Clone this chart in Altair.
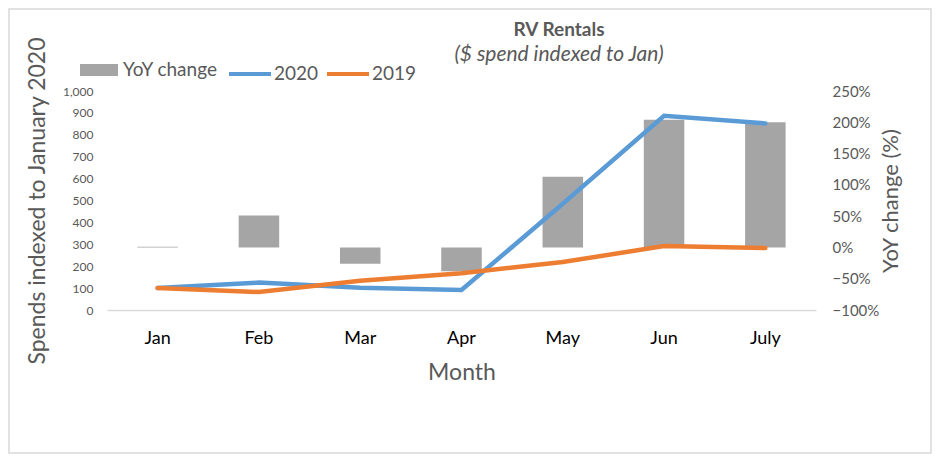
import altair as alt
import pandas as pd

months = ["Jan", "Feb", "Mar", "Apr", "May", "Jun", "July"]
spend_2020 = [100, 125, 102, 91, 485, 887, 852]
spend_2019 = [100, 82, 134, 168, 219, 292, 283]
yoy_change = [0.01, 0.51, -0.26, -0.38, 1.13, 2.04, 2.00]
series_names = ["2020", "2019"]
series_colors = ["#5B9BD5", "#ED7D31"]
bar_color = "#A5A5A5"
left_ticks = [0, 100, 200, 300, 400, 500, 600, 700, 800, 900, 1000]
right_ticks = [-1.0, -0.5, 0.0, 0.5, 1.0, 1.5, 2.0, 2.5]

FONT = "Lato"
GREY = "#595959"

bars_df = pd.DataFrame({"Month": months, "YoY": yoy_change, "label": ["YoY change"] * len(months)})
lines_df = pd.DataFrame({
    "Month": months * 2,
    "Spend": spend_2020 + spend_2019,
    "Year": ["2020"] * len(months) + ["2019"] * len(months),
})

x_enc = alt.X(
    "Month:N",
    sort=months,
    scale=alt.Scale(paddingInner=0.6, paddingOuter=0.3),
    axis=alt.Axis(
        title="Month", labelAngle=0, labelColor="black", labelFontSize=18, labelFont=FONT,
        labelPadding=19, ticks=False, domainColor="#d9d9d9", domainWidth=1.5,
        titleColor=GREY, titleFontSize=23, titleFont=FONT, titleFontWeight="normal", titlePadding=14,
    ),
)

bars = alt.Chart(bars_df).mark_bar(color=bar_color).encode(
    x=x_enc,
    y=alt.Y(
        "YoY:Q",
        scale=alt.Scale(domain=[-1.0, 2.5], nice=False, zero=False),
        axis=alt.Axis(
            orient="right", values=right_ticks, format=".0%", grid=False, ticks=False, domain=False,
            labelColor=GREY, labelFontSize=15, labelFont=FONT, labelPadding=16,
            title="YoY change (%)", titleAngle=270, titleColor=GREY, titleFontSize=22,
            titleFont=FONT, titleFontWeight="normal", titlePadding=24,
        ),
    ),
    y2=alt.datum(0),
    fill=alt.Fill(
        "label:N",
        scale=alt.Scale(domain=["YoY change"], range=[bar_color]),
        legend=alt.Legend(
            title=None, orient="none", legendX=-27, legendY=-40, direction="horizontal",
            symbolType="M-1,-0.32H1V0.32H-1Z", symbolSize=1444, symbolStrokeWidth=0,
            labelFontSize=19, labelFont=FONT, labelColor=GREY, labelOffset=5,
        ),
    ),
)

lines = alt.Chart(lines_df).mark_line(strokeWidth=4.5, strokeCap="round").encode(
    x=x_enc,
    y=alt.Y(
        "Spend:Q",
        scale=alt.Scale(domain=[0, 1000], nice=False),
        axis=alt.Axis(
            orient="left", values=left_ticks, format=",.0f", grid=False, ticks=False, domain=False,
            labelColor=GREY, labelFontSize=12, labelFont=FONT, labelPadding=14,
            title="Spends indexed to January 2020", titleColor=GREY, titleFontSize=23,
            titleFont=FONT, titleFontWeight="normal", titlePadding=13,
        ),
    ),
    color=alt.Color(
        "Year:N",
        scale=alt.Scale(domain=series_names, range=series_colors),
        legend=alt.Legend(
            title=None, orient="none", legendX=120, legendY=-40, direction="horizontal",
            symbolType="stroke", symbolSize=1764, symbolStrokeWidth=4, columnPadding=0,
            labelFontSize=19, labelFont=FONT, labelColor=GREY, labelOffset=1,
        ),
    ),
    detail="Year:N",
)

one = pd.DataFrame({"a": [0]})
title_mark = alt.Chart(one).mark_text(
    text="RV Rentals", font=FONT, fontSize=19, fontWeight="bold", color=GREY, align="center", baseline="middle"
).encode(x=alt.value(452), y=alt.value(-61))
subtitle_mark = alt.Chart(one).mark_text(
    text="($ spend indexed to Jan)", font=FONT, fontSize=21, fontStyle="italic", color=GREY,
    align="center", baseline="middle"
).encode(x=alt.value(452), y=alt.value(-36))
border = alt.Chart(one).mark_rect(filled=False, stroke="#d9d9d9", strokeWidth=1.5).encode(
    x=alt.value(-98), x2=alt.value(824), y=alt.value(-82), y2=alt.value(362)
)

chart = (
    alt.layer(bars, lines, title_mark, subtitle_mark, border)
    .resolve_scale(y="independent")
    .properties(
        width=709, height=219,
        autosize=alt.AutoSizeParams(type="none"),
        padding={"left": 99, "top": 83, "right": 116, "bottom": 144},
        background="white",
    )
    .configure_view(strokeWidth=0)
)

chart.save("out.html", embed_options={"renderer": "svg", "actions": False})
